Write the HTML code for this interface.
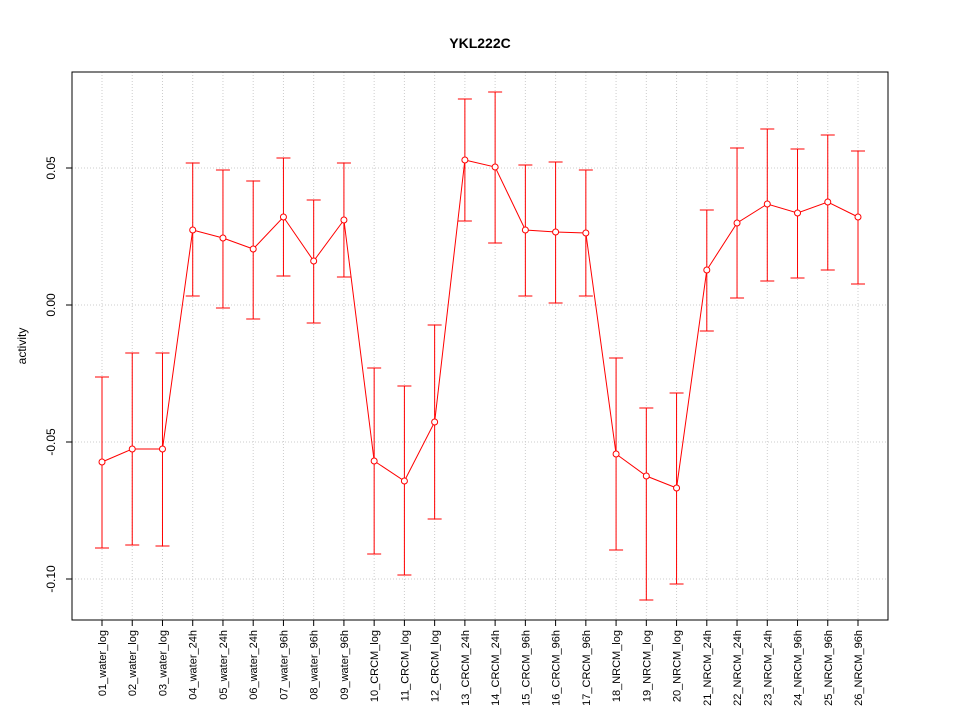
<!DOCTYPE html>
<html><head><style>body{margin:0;background:#fff}</style></head><body>
<svg width="960" height="720" xmlns="http://www.w3.org/2000/svg" font-family="Liberation Sans, sans-serif">
<rect width="960" height="720" fill="#fff"/>
<text x="480" y="48" text-anchor="middle" font-size="14" font-weight="bold">YKL222C</text>
<g id="grid" stroke="#ccc" stroke-dasharray="1,2" stroke-width="1"></g>
<rect x="72" y="72" width="816" height="548" fill="none" stroke="#000"/>
<g id="yt" font-size="12"></g>
<text transform="translate(26,346) rotate(-90)" text-anchor="middle" font-size="12">activity</text>
<g id="xt" font-size="11"></g>
<g id="data" stroke="#f00" fill="none" stroke-width="1"></g>
<script>
var ns="http://www.w3.org/2000/svg";
function el(p,t,a,txt){var e=document.createElementNS(ns,t);for(var k in a)e.setAttribute(k,a[k]);if(txt)e.textContent=txt;p.appendChild(e);return e;}
var labels=["01_water_log","02_water_log","03_water_log","04_water_24h","05_water_24h","06_water_24h","07_water_96h","08_water_96h","09_water_96h","10_CRCM_log","11_CRCM_log","12_CRCM_log","13_CRCM_24h","14_CRCM_24h","15_CRCM_96h","16_CRCM_96h","17_CRCM_96h","18_NRCM_log","19_NRCM_log","20_NRCM_log","21_NRCM_24h","22_NRCM_24h","23_NRCM_24h","24_NRCM_96h","25_NRCM_96h","26_NRCM_96h"];
var d=[[462,377,548],[449,353,545],[449,353,546],[230,163,296],[238,170,308],[249,181,319],[217,158,276],[261,200,323],[220,163,277],[461,368,554],[481,386,575],[422,325,519],[160,99,221],[167,92,243],[230,165,296],[232,162,303],[233,170,296],[454,358,550],[476,408,600],[488,393,584],[270,210,331],[223,148,298],[204,129,281],[213,149,278],[202,135,270],[217,151,284]];
var g=document.getElementById("grid"),yt=document.getElementById("yt"),xt=document.getElementById("xt"),dd=document.getElementById("data");
var yv=[[168,"0.05"],[305,"0.00"],[442,"-0.05"],[579,"-0.10"]];
yv.forEach(function(v){el(g,"line",{x1:72,x2:888,y1:v[0],y2:v[0]});el(yt,"line",{x1:66,x2:72,y1:v[0],y2:v[0],stroke:"#000"});
el(yt,"text",{transform:"translate(55,"+v[0]+") rotate(-90)","text-anchor":"middle"},v[1]);});
el(yt,"line",{x1:72,x2:72,y1:168,y2:579,stroke:"#000"});
var pts=[];
d.forEach(function(v,i){var x=102+i*30.24;
el(g,"line",{x1:x,x2:x,y1:72,y2:620});
el(xt,"line",{x1:x,x2:x,y1:620,y2:626,stroke:"#000"});
el(xt,"text",{transform:"translate("+(x+4)+",630) rotate(-90)","text-anchor":"end"},labels[i]);
el(dd,"line",{x1:x,x2:x,y1:v[1],y2:v[2]});
el(dd,"line",{x1:x-7,x2:x+7,y1:v[1],y2:v[1]});
el(dd,"line",{x1:x-7,x2:x+7,y1:v[2],y2:v[2]});
pts.push(x+","+v[0]);});
el(xt,"line",{x1:102,x2:858,y1:620,y2:620,stroke:"#000"});
el(dd,"polyline",{points:pts.join(" ")});
d.forEach(function(v,i){el(dd,"circle",{cx:102+i*30.24,cy:v[0],r:3,fill:"#fff"});});
</script>
</svg>
</body></html>
